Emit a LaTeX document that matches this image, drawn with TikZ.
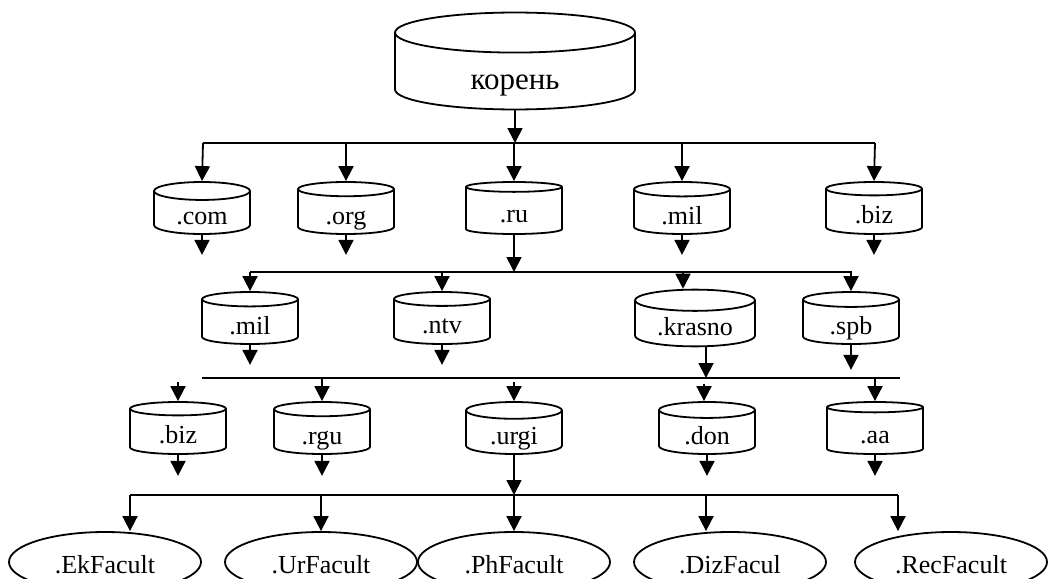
\documentclass[tikz,border=0pt]{standalone}
\usepackage{fontspec}
\setmainfont{Liberation Serif}
\usetikzlibrary{shapes.geometric,arrows.meta}

\begin{document}
\begin{tikzpicture}[x=1pt, y=-1pt,
>={Triangle[length=15pt, width=15pt]},
can/.style={cylinder, shape border rotate=90, draw=black, line width=1.8pt, aspect=0.35, minimum width=96pt, minimum height=52pt, inner sep=0pt, anchor=shape center, text height=24pt, text depth=-10pt, font=\fontsize{26}{30}\selectfont},
rootcan/.style={can, aspect=0.45, minimum width=240pt, minimum height=92pt, text height=36pt, text depth=-12pt, font=\fontsize{31}{36}\selectfont},
fac/.style={ellipse, draw=black, line width=1.8pt, minimum width=192pt, minimum height=60pt, inner sep=0pt, text height=22pt, text depth=0pt, font=\fontsize{26}{30}\selectfont},
link/.style={->, line width=1.8pt},
bus/.style={line width=1.5pt}
]
\useasboundingbox (0,0) rectangle (1054,578);
\clip (0,0) rectangle (1054,578);
%Nodes
\node[rootcan]   (root)    at (515,61)     {корень};
\node[can]       (com)     at (202,208)    {.com};
\node[can]       (org)     at (346,208)    {.org};
\node[can]       (ru)      at (514,208)    {.ru};
\node[can]       (mil)     at (682,208)    {.mil};
\node[can]       (biz)     at (874,208)    {.biz};
\node[can]       (mil2)    at (250,318)    {.mil};
\node[can]       (ntv)     at (442,318)    {.ntv};
\node[can, minimum width=120pt, aspect=0.28] (krasno) at (695,318) {.krasno};
\node[can]       (spb)     at (851,318)    {.spb};
\node[can]       (biz2)    at (178,428)    {.biz};
\node[can]       (rgu)     at (322,428)    {.rgu};
\node[can]       (urgi)    at (514,428)    {.urgi};
\node[can]       (don)     at (707,428)    {.don};
\node[can]       (aa)      at (875,428)    {.aa};
\node[fac]       (ek)      at (105,562)    {.EkFacult};
\node[fac]       (ur)      at (321,562)    {.UrFacult};
\node[fac]       (ph)      at (514,562)    {.PhFacult};
\node[fac]       (diz)     at (730,562)    {.DizFacul};
\node[fac]       (rec)     at (951,562)    {.RecFacult};
%Buses
\coordinate (busA-w) at (203,143);  \coordinate (busA-e) at (875,143);
\coordinate (busB-w) at (250,272);  \coordinate (busB-e) at (852,272);
\coordinate (busC-w) at (202,378);  \coordinate (busC-e) at (900,378);
\coordinate (busD-w) at (130,495);  \coordinate (busD-e) at (898,495);
\coordinate (krasno-in)  at ([xshift=-12pt]krasno.north);
\coordinate (krasno-out) at ([xshift=11pt]krasno.south);
\coordinate (diz-in)     at ([xshift=-24pt]diz.north);
\draw[bus] (busA-w) -- (busA-e);
\draw[bus] (busB-w) -- (busB-e);
\draw[bus] (busC-w) -- (busC-e);
\draw[bus] (busD-w) -- (busD-e);
%Lines
\draw[link] (root.south) -- (root.south |- busA-w);
\draw[link] (busA-w) -- (com.north);
\draw[link] (org.north |- busA-w) -- (org.north);
\draw[link] (ru.north |- busA-w) -- (ru.north);
\draw[link] (mil.north |- busA-w) -- (mil.north);
\draw[link] (busA-e) -- (biz.north);
\draw[link] (com.south) -- ++(0,20);
\draw[link] (org.south) -- ++(0,20);
\draw[link] (mil.south) -- ++(0,20);
\draw[link] (biz.south) -- ++(0,20);
\draw[link] (ru.south) -- (ru.south |- busB-w);
\draw[link] (busB-w) -- (mil2.north);
\draw[link] (ntv.north |- busB-w) -- (ntv.north);
\draw[link] (krasno-in |- busB-w) -- (krasno-in);
\draw[link] (spb.north |- busB-w) -- (spb.north);
\draw[link] (mil2.south) -- ++(0,20);
\draw[link] (ntv.south) -- ++(0,20);
\draw[link] (spb.south) -- ++(0,25);
\draw[link] (krasno-out) -- (krasno-out |- busC-w);
\draw[link] ([yshift=19pt]biz2.north) -- (biz2.north);
\draw[link] (rgu.north |- busC-w) -- (rgu.north);
\draw[link] ([yshift=19pt]urgi.north) -- (urgi.north);
\draw[link] ([yshift=17pt,xshift=-3pt]don.north) -- ([xshift=-3pt]don.north);
\draw[link] (aa.north |- busC-w) -- (aa.north);
\draw[link] (biz2.south) -- ++(0,21);
\draw[link] (rgu.south) -- ++(0,21);
\draw[link] (don.south) -- ++(0,21);
\draw[link] (aa.south) -- ++(0,21);
\draw[link] (urgi.south) -- (urgi.south |- busD-w);
\draw[link] (busD-w) -- (busD-w |- ek.north);
\draw[link] (ur.north |- busD-w) -- (ur.north);
\draw[link] (ph.north |- busD-w) -- (ph.north);
\draw[link] (diz-in |- busD-w) -- (diz-in);
\draw[link] (busD-e) -- (busD-e |- rec.north);
\end{tikzpicture}
\end{document}
